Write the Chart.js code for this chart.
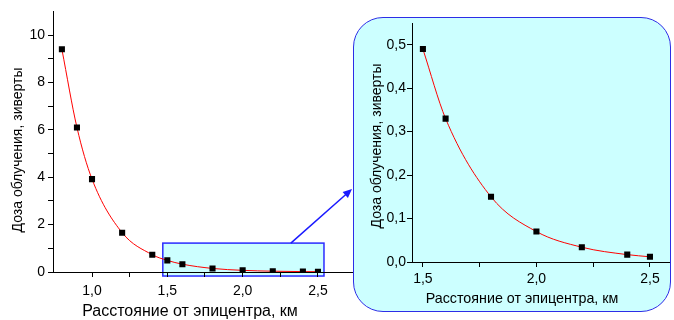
<!DOCTYPE html>
<html>
<head>
<meta charset="utf-8">
<script src="https://cdn.jsdelivr.net/npm/chart.js@4"></script>
<style>
  body { margin: 0; background: #fff; }
  #wrap { position: relative; width: 674px; height: 320px; }
  #wrap canvas { position: absolute; left: 0; top: 0; }
  #box {
    position: absolute; left: 353px; top: 17px; width: 316px; height: 293px;
    background: #ccffff; border: 1.5px solid #2d2de6; border-radius: 30px;
  }
</style>
</head>
<body>
<div id="wrap">
  <canvas id="mainChart" width="674" height="320"></canvas>
  <div id="box"></div>
  <canvas id="zoomChart" width="674" height="320"></canvas>
</div>
<script>
// distance from epicentre, km
const distance = [0.8, 0.9, 1.0, 1.2, 1.4, 1.5, 1.6, 1.8, 2.0, 2.2, 2.4, 2.5];
// dose, sieverts
const dose = [9.4, 6.1, 3.92, 1.66, 0.73, 0.49, 0.33, 0.15, 0.07, 0.034, 0.017, 0.012];

// inset: only the part from 1.5 km
const zoomDistance = [1.5, 1.6, 1.8, 2.0, 2.2, 2.4, 2.5];
const zoomDose = [0.49, 0.33, 0.15, 0.07, 0.034, 0.017, 0.012];

const mainXTicks = [1.0, 1.25, 1.5, 1.75, 2.0, 2.25, 2.5];
const mainYTicks = [0, 1, 2, 3, 4, 5, 6, 7, 8, 9, 10];
const zoomXTicks = [1.5, 1.75, 2.0, 2.25, 2.5];
const zoomYTicks = [0, 0.1, 0.2, 0.3, 0.4, 0.5];

const xTitle = 'Расстояние от эпицентра, км';
const yTitle = 'Доза облучения, зиверты';

Chart.defaults.color = '#000';
Chart.defaults.font.family = '"Liberation Sans", Arial, sans-serif';
Chart.defaults.font.size = 14;

function pts(xs, ys) {
    return xs.map((x, i) => ({ x: x, y: ys[i] }));
}
function comma(v) {
    return v.toFixed(1).replace('.', ',');
}
function isHalf(v) {
    return Math.abs(v * 2 - Math.round(v * 2)) < 1e-6;
}

function datasets(xs, ys) {
    return [{
        data: pts(xs, ys),
        showLine: false,
        pointStyle: 'rect',
        pointRadius: 4.3,
        pointBackgroundColor: '#000',
        pointBorderWidth: 0,
        order: 1
    }, {
        data: pts(xs, ys),
        showLine: true,
        borderColor: '#ff0000',
        borderWidth: 1,
        pointRadius: 0,
        cubicInterpolationMode: 'monotone',
        order: 2
    }];
}

function axisGrid() {
    return { drawOnChartArea: false, drawTicks: true, tickLength: 5, color: '#000' };
}

// axis titles placed where the reference has them
const axisTitles = {
    id: 'axisTitles',
    afterDraw(chart, args, opts) {
        const ctx = chart.ctx;
        ctx.save();
        ctx.fillStyle = '#000';
        ctx.textAlign = 'center';
        ctx.textBaseline = 'middle';
        ctx.font = opts.xSize + 'px "Liberation Sans", Arial, sans-serif';
        ctx.fillText(xTitle, opts.xAt[0], opts.xAt[1]);
        ctx.translate(opts.yAt[0], opts.yAt[1]);
        ctx.rotate(-Math.PI / 2);
        ctx.font = opts.ySize + 'px "Liberation Sans", Arial, sans-serif';
        ctx.fillText(yTitle, 0, 0);
        ctx.restore();
    }
};

// highlight box + arrow on the main chart
const zoomMarker = {
    id: 'zoomMarker',
    beforeDraw(chart) {
        const { ctx, scales: { x, y } } = chart;
        const l = x.getPixelForValue(1.47), r = x.getPixelForValue(2.54);
        const t = y.getPixelForValue(1.22), b = y.getPixelForValue(-0.17);
        ctx.save();
        ctx.fillStyle = '#ccffff';
        ctx.fillRect(l, t, r - l, b - t);
        ctx.strokeStyle = '#2b2bff';
        ctx.lineWidth = 1.5;
        ctx.strokeRect(l, t, r - l, b - t);
        ctx.restore();
    },
    afterDraw(chart) {
        const { ctx, scales: { x, y } } = chart;
        const sx = x.getPixelForValue(2.32), sy = y.getPixelForValue(1.22);
        const ex = 352, ey = 189;
        const ang = Math.atan2(ey - sy, ex - sx);
        ctx.save();
        ctx.strokeStyle = '#1a1aff';
        ctx.fillStyle = '#1a1aff';
        ctx.lineWidth = 1.5;
        ctx.beginPath();
        ctx.moveTo(sx, sy);
        ctx.lineTo(ex - 6 * Math.cos(ang), ey - 6 * Math.sin(ang));
        ctx.stroke();
        ctx.beginPath();
        ctx.moveTo(ex, ey);
        ctx.lineTo(ex - 9 * Math.cos(ang) + 4 * Math.sin(ang), ey - 9 * Math.sin(ang) - 4 * Math.cos(ang));
        ctx.lineTo(ex - 9 * Math.cos(ang) - 4 * Math.sin(ang), ey - 9 * Math.sin(ang) + 4 * Math.cos(ang));
        ctx.closePath();
        ctx.fill();
        ctx.restore();
    }
};

new Chart(document.getElementById('mainChart'), {
    type: 'scatter',
    data: { datasets: datasets(distance, dose) },
    options: {
        responsive: false,
        animation: false,
        layout: { padding: { left: 4, right: 322, top: 10, bottom: 0 } },
        plugins: {
            legend: { display: false }, tooltip: { enabled: false },
            axisTitles: { xAt: [190, 312], xSize: 16, yAt: [18, 150], ySize: 14 }
        },
        scales: {
            x: {
                type: 'linear', min: 0.741, max: 2.726,
                grid: axisGrid(),
                border: { color: '#000', width: 1 },
                afterBuildTicks: s => { s.ticks = mainXTicks.map(v => ({ value: v })); },
                afterFit: s => { s.height = 48; },
                ticks: { padding: 6, maxRotation: 0, autoSkip: false,
                    callback: v => isHalf(v) ? comma(v) : '' }
            },
            y: {
                type: 'linear', min: 0, max: 11,
                grid: axisGrid(),
                border: { color: '#000', width: 1 },
                afterBuildTicks: s => { s.ticks = mainYTicks.map(v => ({ value: v })); },
                afterFit: s => { s.width = 49; },
                ticks: { padding: 3, autoSkip: false,
                    callback: v => v % 2 === 0 ? String(v) : '' }
            }
        }
    },
    plugins: [zoomMarker, axisTitles]
});

new Chart(document.getElementById('zoomChart'), {
    type: 'scatter',
    data: { datasets: datasets(zoomDistance, zoomDose) },
    options: {
        responsive: false,
        animation: false,
        layout: { padding: { left: 364, right: 2, top: 23, bottom: 10 } },
        plugins: {
            legend: { display: false }, tooltip: { enabled: false },
            axisTitles: { xAt: [522, 299], xSize: 14.3, yAt: [377, 146], ySize: 14 }
        },
        scales: {
            x: {
                type: 'linear', min: 1.452, max: 2.587,
                grid: axisGrid(),
                border: { color: '#000', width: 1 },
                afterBuildTicks: s => { s.ticks = zoomXTicks.map(v => ({ value: v })); },
                afterFit: s => { s.height = 48; },
                ticks: { padding: 4, maxRotation: 0, autoSkip: false,
                    callback: v => isHalf(v) ? comma(v) : '' }
            },
            y: {
                type: 'linear', min: 0, max: 0.55,
                grid: axisGrid(),
                border: { color: '#000', width: 1 },
                afterBuildTicks: s => { s.ticks = zoomYTicks.map(v => ({ value: v })); },
                afterFit: s => { s.width = 48; },
                ticks: { padding: 1, autoSkip: false, callback: v => comma(v) }
            }
        }
    },
    plugins: [axisTitles]
});
</script>
</body>
</html>
